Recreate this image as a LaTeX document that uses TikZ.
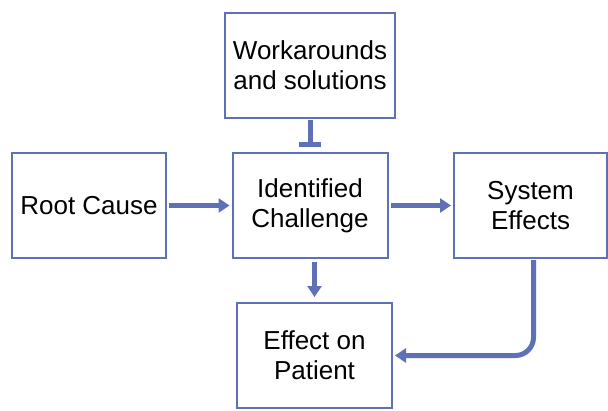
\documentclass[tikz,border=0pt]{standalone}
\usepackage{fontspec}
\setmainfont{Liberation Sans}
\usetikzlibrary{arrows.meta,calc}
\definecolor{lineblue}{RGB}{95,113,182}
\begin{document}
\begin{tikzpicture}[x=1pt,y=-1pt,
  box/.style={draw=lineblue,line width=2pt,fill=white,align=center,
    font=\fontsize{26}{30}\selectfont,inner sep=0pt},
  conn/.style={draw=lineblue,line width=5pt},
  arr/.style={conn,-{Triangle[length=11pt,width=14pt]}}]
\useasboundingbox (0,0) rectangle (608,410);
\node[box,minimum width=170pt,minimum height=105pt] (work) at (310,65.5) {Workarounds\\and solutions};
\node[box,minimum width=154pt,minimum height=105pt] (root) at (89,205.5) {Root Cause};
\node[box,minimum width=155pt,minimum height=105pt] (chal) at (310,205.5) {Identified\\Challenge};
\node[box,minimum width=153pt,minimum height=105pt] (sys) at (530.5,205.5) {System\\Effects};
\node[box,minimum width=155pt,minimum height=105pt] (pat) at (314.5,355.5) {Effect on\\Patient};
\draw[conn,-{Bar[width=22pt,line width=5pt]},shorten <=1pt,shorten >=5pt] (work.south) -- (chal.north);
\draw[arr,shorten <=2pt,shorten >=2pt] (root.east) -- (chal.west);
\draw[arr,shorten <=2pt,shorten >=2pt] (chal.east) -- (sys.west);
\draw[arr,shorten <=3pt,shorten >=5pt] (chal.south -| pat.north) -- (pat.north);
\coordinate (sysb) at ($(sys.south)+(3,0)$);
\draw[arr,rounded corners=18pt,shorten <=1pt,shorten >=2pt] (sysb) |- (pat.east);
\end{tikzpicture}
\end{document}
